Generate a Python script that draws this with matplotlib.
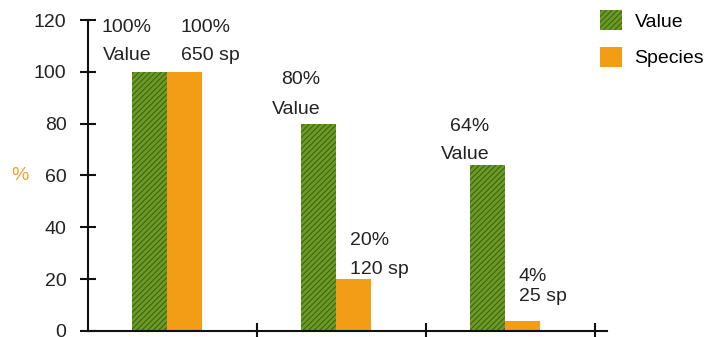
import matplotlib.pyplot as plt
import numpy as np

# share of total value and of species per group
groups = ['A', 'B', 'C']
value_pct = [100, 80, 64]
species_pct = [100, 20, 4]
species_count = [650, 120, 25]
yticks = [0, 20, 40, 60, 80, 100, 120]

plt.rcParams['font.family'] = ['Liberation Sans', 'DejaVu Sans']
plt.rcParams['hatch.linewidth'] = 0.8

fig = plt.figure(figsize=(7.04, 3.37), dpi=100)
ax = fig.add_axes([0.125, 0.018, 0.737, 0.9225])

x = np.arange(len(groups)) + 0.47
w = 0.207
green = '#6b9a26'
orange = '#f39c16'
fs = 14

ax.bar(x - w / 2, value_pct, w, color=green, edgecolor='#3f6410',
       hatch='//////', linewidth=0, label='Value')
ax.bar(x + w / 2, species_pct, w, color=orange, linewidth=0, label='Species')

# two-line labels above each bar (offsets in data units from the bar top)
green_offsets = [(17.3, 6.3), (17, 5.5), (14.8, 4.2)]
orange_offsets = [(17.3, 6.3), (14.8, 3.9), (16.9, 9.1)]
for i in range(len(groups)):
    xg = x[i] - w / 2 + 0.01
    hi, lo = green_offsets[i]
    ax.text(xg, value_pct[i] + hi, f'{value_pct[i]}%', ha='right', va='center', fontsize=fs, color='#222222')
    ax.text(xg, value_pct[i] + lo, 'Value', ha='right', va='center', fontsize=fs, color='#222222')
    xo = x[i] + w / 2 - 0.025
    hi, lo = orange_offsets[i]
    ax.text(xo, species_pct[i] + hi, f'{species_pct[i]}%', ha='left', va='center', fontsize=fs, color='#222222')
    ax.text(xo, species_pct[i] + lo, f'{species_count[i]} sp', ha='left', va='center', fontsize=fs, color='#222222')

ax.set_xlim(0, 3.07)
ax.set_ylim(0, 120)
ax.set_yticks(yticks)
ax.set_xticks([1, 2, 3])
ax.set_xticklabels([])
ax.spines['top'].set_visible(False)
ax.spines['right'].set_visible(False)
for s in ['left', 'bottom']:
    ax.spines[s].set_linewidth(1.5)
    ax.spines[s].set_color('#111111')
ax.tick_params(axis='y', direction='inout', length=11, width=1.5, pad=10,
               labelsize=fs, labelcolor='#222222', color='#111111')
ax.tick_params(axis='x', direction='inout', length=12, width=1.5, color='#111111')
ax.set_ylabel('%', color='#f0a030', fontsize=fs, rotation=0, va='center', ha='center')
ax.yaxis.set_label_coords(-0.131, 0.5)

ax.legend(loc='upper left', bbox_to_anchor=(600 / 704, 1 - 10 / 337),
          bbox_transform=fig.transFigure, frameon=False, fontsize=fs,
          handlelength=1.13, handleheight=1.24, labelspacing=0.82,
          handletextpad=0.65, borderpad=0, borderaxespad=0)

fig.savefig('out.png', dpi=100)
